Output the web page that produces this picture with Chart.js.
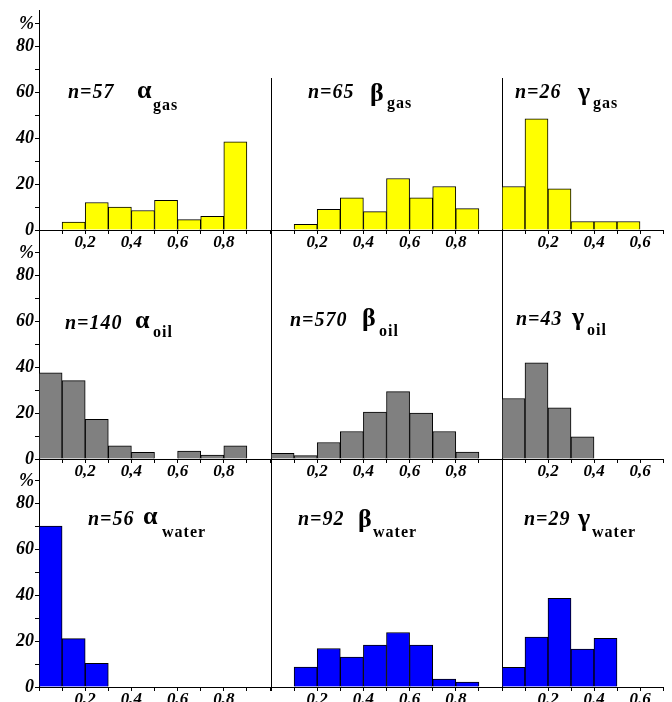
<!DOCTYPE html>
<html><head><meta charset="utf-8">
<script src="https://cdn.jsdelivr.net/npm/chart.js@4.4.0/dist/chart.umd.min.js"></script>
<style>
html,body{margin:0;padding:0;background:#fff;}
#wrap{position:relative;width:672px;height:702px;overflow:hidden;background:#fff;}
canvas{position:absolute;}
.t{position:absolute;font-family:'Liberation Serif','Times New Roman',serif;font-weight:bold;white-space:nowrap;line-height:1;color:#000;z-index:5;}
.n{font-style:italic;letter-spacing:1px;}
.s{letter-spacing:1px;}
</style></head><body><div id="wrap"></div>
<script>
// ---- data ----
const binCenters = [0.05,0.15,0.25,0.35,0.45,0.55,0.65,0.75,0.85,0.95];
const alphaGas   = [null, 3.5, 12, 10, 8.5, 13, 4.5, 6, 38.5];
const betaGas    = [null, 2.5, 9, 14, 8, 22.5, 14, 19, 9.3];
const gammaGas   = [19, 48.5, 18, 3.7, 3.7, 3.7];
const alphaOil   = [37.6, 34.2, 17.3, 5.8, 2.9, null, 3.5, 1.7, 5.8];
const betaOil    = [2.5, 1.5, 7.2, 12, 20.5, 29.4, 20, 12, 3];
const gammaOil   = [26.4, 42, 22.3, 9.7];
const alphaWater = [70.3, 21.1, 10.3];
const betaWater  = [null, 8.7, 16.8, 13.1, 18.3, 23.8, 18.3, 3.5, 2.2];
const gammaWater = [8.6, 21.8, 38.7, 16.6, 21.2];
const sampleSizes = ['n=57','n=65','n=26','n=140','n=570','n=43','n=56','n=92','n=29'];
const greekLetters = ['α','β','γ'];
const phases = ['gas','oil','water'];
const yTickValues = [0,10,20,30,40,50,60,70,80,90];
const yTickLabels = ['0','','20','','40','','60','','80','%'];
const xTickLabelsComma = ['','','0,2','','0,4','','0,6','','0,8','',''];
const xTickLabelsDot   = ['','','0.2','','0.4','','0.6','','0.8','',''];
const xMax = [1.0, 1.0, 0.7];
const rowColors = ['#ffff00', '#808080', '#0000ff'];
const panelValues = [
  [alphaGas, betaGas, gammaGas],
  [alphaOil, betaOil, gammaOil],
  [alphaWater, betaWater, gammaWater]
];

// ---- layout ----
const PX = 2.29;
const rowZero = [230, 459, 687];
const leftTop = [10, 230, 459];
const otherTop = [78, 230, 459];
const colX = [39, 271, 502];
const plotWs = [231, 231, 161];
const annot = [
 [68,98,137,99,153,110],
 [308,98,370,102,387,108],
 [515,98,578,101,593,108],
 [65,329,135,329,153,337],
 [290,326,362,327,379,336],
 [516,325,572,326,587,335],
 [88,525,143,525,162,537],
 [298,525,358,528,373,537],
 [524,525,578,527,592,537]
];
const FAM = "'Liberation Serif','Times New Roman',serif";
const wrap = document.getElementById('wrap');

function makePanel(row, col) {
  const values = panelValues[row][col];
  const yW = col === 0 ? 39 : 5;
  const zero = rowZero[row];
  const top = col === 0 ? leftTop[row] : otherTop[row];
  const plotH = zero - top;
  const plotW = plotWs[col];
  const PADT = 12, PADR = 6, XH = 26;
  const W = yW + plotW + PADR, H = PADT + plotH + XH;
  const cv = document.createElement('canvas');
  cv.width = W; cv.height = H;
  cv.style.left = (colX[col] - yW) + 'px';
  cv.style.top = (top - PADT) + 'px';
  cv.style.width = W + 'px'; cv.style.height = H + 'px';
  wrap.appendChild(cv);
  const xmax = xMax[col];
  const nT = Math.round(xmax * 10);
  const xLabels = (row === 2 && col > 0) ? xTickLabelsDot : xTickLabelsComma;
  const data = values.map((v, i) => v == null ? null : {x: binCenters[i], y: v}).filter(Boolean);
  const yAxis = col === 0 ? {
    type: 'linear', min: 0, max: plotH / PX,
    afterBuildTicks: s => { s.ticks = yTickValues.map(v => ({value: v})); },
    afterFit: s => { s.width = yW; },
    ticks: {display: true, autoSkip: false, padding: 1, color: '#000',
      font: {family: FAM, size: 18, style: 'italic', weight: 'bold'},
      callback: (v, i) => yTickLabels[i] || ''},
    grid: {drawOnChartArea: false, drawTicks: true, tickLength: 4, color: '#000'},
    border: {display: true, color: '#000', width: 1}
  } : {
    type: 'linear', min: 0, max: plotH / PX,
    afterFit: s => { s.width = yW; },
    ticks: {display: false},
    grid: {drawOnChartArea: false, drawTicks: false, color: '#000'},
    border: {display: true, color: '#000', width: 1}
  };
  new Chart(cv, {
    type: 'bar',
    data: {datasets: [{data, backgroundColor: rowColors[row], borderColor: '#000', borderWidth: 1,
      barPercentage: 1, categoryPercentage: 1}]},
    options: {
      responsive: false, animation: false, events: [],
      layout: {padding: {top: PADT, right: PADR, left: 0, bottom: 0}},
      plugins: {legend: {display: false}, tooltip: {enabled: false}},
      scales: {
        x: {type: 'linear', min: 0, max: xmax, offset: false,
          afterBuildTicks: s => { s.ticks = Array.from({length: nT + 1}, (_, i) => ({value: i / 10})); },
          afterFit: s => { s.height = XH; },
          ticks: {autoSkip: false, maxRotation: 0, minRotation: 0, padding: -2, color: '#000',
            font: {family: FAM, size: 17, style: 'italic', weight: 'bold'},
            callback: (v, i) => xLabels[i] || ''},
          grid: {offset: false, drawOnChartArea: false, drawTicks: true, tickLength: 4, color: '#000'},
          border: {display: true, color: '#000', width: 1}},
        y: yAxis
      }
    }
  });
}

function place(text, cls, left, baseline, size) {
  const s = document.createElement('div');
  s.className = 't ' + cls;
  s.style.fontSize = size + 'px';
  s.style.left = left + 'px';
  s.style.top = (baseline - 0.8375 * size) + 'px';
  s.textContent = text;
  wrap.appendChild(s);
}

for (let r = 0; r < 3; r++) {
  for (let c = 0; c < 3; c++) {
    makePanel(r, c);
    const k = r * 3 + c;
    const a = annot[k];
    place(sampleSizes[k], 'n', a[0], a[1], 20);
    place(greekLetters[c], 'g', a[2], a[3], 26);
    place(phases[r], 's', a[4], a[5], 16);
  }
}
</script>
</body></html>
